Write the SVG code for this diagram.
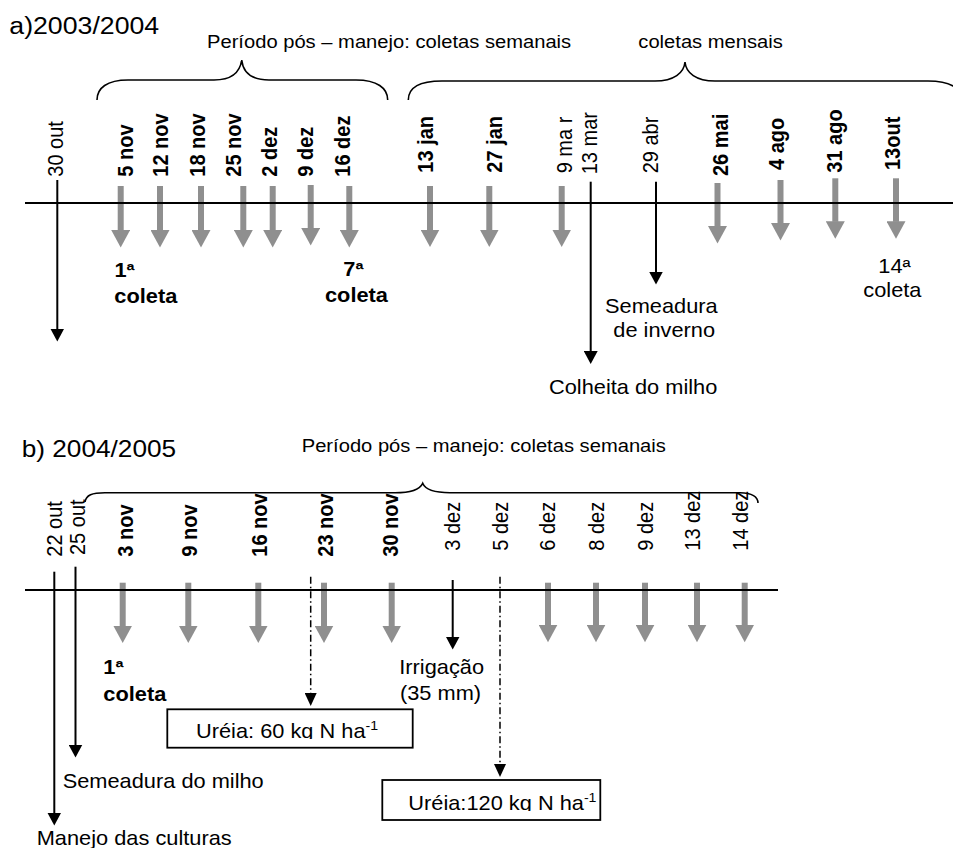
<svg xmlns="http://www.w3.org/2000/svg" width="953" height="848" viewBox="0 0 953 848">
<style>
text { font-family: "Liberation Sans", Arial, Helvetica, sans-serif; fill: #000; }
.b { font-weight: bold; }
.f20 { font-size: 20px; }
.f18 { font-size: 18.5px; }
.f24 { font-size: 24.5px; }
.sup { font-size: 13px; }
.ax { stroke: #000; stroke-width: 2; }
.blk { stroke: #000; stroke-width: 2; marker-end: url(#ah); }
.gry { stroke: #8f8f8f; stroke-width: 6; marker-end: url(#gh); }
.dd { stroke: #000; stroke-width: 1.5; stroke-dasharray: 7 3 1.5 3; marker-end: url(#dh); }
.br { fill: none; stroke: #000; stroke-width: 1.6; }
.box { fill: #fff; stroke: #000; stroke-width: 1.8; }
</style>
<defs>
<marker id="gh" markerUnits="userSpaceOnUse" markerWidth="18" markerHeight="19" viewBox="0 0 18 19" refX="0.5" refY="9.5" orient="auto">
<path d="M0,0 L17.5,9.5 L0,19 z" fill="#8f8f8f"/>
</marker>
<marker id="ah" markerUnits="userSpaceOnUse" markerWidth="13" markerHeight="14" viewBox="0 0 13 14" refX="0.5" refY="7" orient="auto">
<path d="M0,0 L13,7 L0,14 z" fill="#000"/>
</marker>
<marker id="dh" markerUnits="userSpaceOnUse" markerWidth="13" markerHeight="12" viewBox="0 0 13 12" refX="0.5" refY="6" orient="auto">
<path d="M0,0 L13,6 L0,12 z" fill="#000"/>
</marker>
<clipPath id="c1"><rect x="168" y="710" width="243" height="29"/></clipPath>
<clipPath id="c2"><rect x="383" y="781" width="216" height="30"/></clipPath>
</defs>

<!-- ===== Panel a ===== -->
<g id="title-a">
<text class="f24" transform="translate(9.3,34.3) scale(1.09,1)">a)2003/2004</text>
</g>
<g id="brace-a1">
<path class="br" d="M97,100 C97,88 107,80 128,80 L214,80 C232,80 240,72 241.7,60 C243,72 251,80 269,80 L356,80 C377,80 387.7,88 387.7,100"/>
<text class="f18" transform="translate(207,48.3) scale(1.09,1)">Período pós – manejo: coletas semanais</text>
</g>
<g id="brace-a2">
<path class="br" d="M408.3,100 C408.3,88 419,81 442,81 L655,81 C674,81 684,73 685,62 C686,73 696,81 715,81 L928,81 C950,81 961.7,88 961.7,100"/>
<text class="f18" transform="translate(638.3,48.3) scale(1.09,1)">coletas mensais</text>
</g>

<g id="connectors-a">
<line class="gry" x1="120.7" y1="186" x2="120.7" y2="230.5"/>
<line class="gry" x1="160" y1="186" x2="160" y2="230.5"/>
<line class="gry" x1="201" y1="186" x2="201" y2="230.5"/>
<line class="gry" x1="243.3" y1="186" x2="243.3" y2="230.5"/>
<line class="gry" x1="272.7" y1="186" x2="272.7" y2="230.5"/>
<line class="gry" x1="310.7" y1="185" x2="310.7" y2="228.5"/>
<line class="gry" x1="349.3" y1="186" x2="349.3" y2="230.5"/>
<line class="gry" x1="430" y1="186" x2="430" y2="230"/>
<line class="gry" x1="489.3" y1="186" x2="489.3" y2="230"/>
<line class="gry" x1="561.7" y1="186" x2="561.7" y2="230"/>
<line class="gry" x1="717.5" y1="183" x2="717.5" y2="226.5"/>
<line class="gry" x1="780.5" y1="180" x2="780.5" y2="223.5"/>
<line class="gry" x1="835.3" y1="178.3" x2="835.3" y2="221.8"/>
<line class="gry" x1="896" y1="178.3" x2="896" y2="221.8"/>
<line class="ax" x1="25" y1="203" x2="953" y2="203"/>
<line class="blk" x1="57.3" y1="180" x2="57.3" y2="329"/>
<line class="blk" x1="590.7" y1="181.7" x2="590.7" y2="351.5"/>
<line class="blk" x1="656" y1="181.7" x2="656" y2="272"/>
</g>

<g id="dates-a">
<text class="f20" transform="translate(63.3,176.7) scale(1.1,1) rotate(-90)">30 out</text>
<text class="f20 b" transform="translate(133.3,176.7) scale(1.1,1) rotate(-90)">5 nov</text>
<text class="f20 b" transform="translate(168.3,176.7) scale(1.1,1) rotate(-90)">12 nov</text>
<text class="f20 b" transform="translate(205,176.7) scale(1.1,1) rotate(-90)">18 nov</text>
<text class="f20 b" transform="translate(240.7,176.7) scale(1.1,1) rotate(-90)">25 nov</text>
<text class="f20 b" transform="translate(276.7,176.7) scale(1.1,1) rotate(-90)">2 dez</text>
<text class="f20 b" transform="translate(312.7,176.7) scale(1.1,1) rotate(-90)">9 dez</text>
<text class="f20 b" transform="translate(350,176.7) scale(1.1,1) rotate(-90)">16 dez</text>
<text class="f20 b" transform="translate(433.3,172.7) scale(1.1,1) rotate(-90)">13 jan</text>
<text class="f20 b" transform="translate(501.5,172.7) scale(1.1,1) rotate(-90)">27 jan</text>
<text class="f20" transform="translate(571.7,173.3) scale(1.1,1) rotate(-90)">9 ma r</text>
<text class="f20" transform="translate(596.7,174.3) scale(1.1,1) rotate(-90)">13 mar</text>
<text class="f20" transform="translate(658.3,173.3) scale(1.1,1) rotate(-90)">29 abr</text>
<text class="f20 b" transform="translate(728.3,176) scale(1.1,1) rotate(-90)">26 mai</text>
<text class="f20 b" transform="translate(783.5,170) scale(1.1,1) rotate(-90)">4 ago</text>
<text class="f20 b" transform="translate(841.7,172.7) scale(1.1,1) rotate(-90)">31 ago</text>
<text class="f20 b" transform="translate(900,170) scale(1.1,1) rotate(-90)">13out</text>
</g>

<g id="labels-a">
<text class="f20 b" transform="translate(114.5,277.3) scale(1.09,1)">1ª</text>
<text class="f20 b" transform="translate(114.3,303.3) scale(1.09,1)">coleta</text>
<text class="f20 b" transform="translate(343.3,276) scale(1.09,1)">7ª</text>
<text class="f20 b" transform="translate(325,302.3) scale(1.09,1)">coleta</text>
<text class="f20" transform="translate(878.3,272.7) scale(1.09,1)">14ª</text>
<text class="f20" transform="translate(863.3,297.3) scale(1.09,1)">coleta</text>
<text class="f20" transform="translate(605,313.3) scale(1.09,1)">Semeadura</text>
<text class="f20" transform="translate(613.3,337.3) scale(1.09,1)">de inverno</text>
<text class="f20" transform="translate(549,393.5) scale(1.09,1)">Colheita do milho</text>
</g>

<!-- ===== Panel b ===== -->
<g id="title-b">
<text class="f24" transform="translate(21.7,456.7) scale(1.07,1)">b) 2004/2005</text>
</g>
<g id="brace-b">
<path class="br" d="M85,502 C86,495 92,492.7 105,492.7 L395,492.7 C412,492.7 420,489 422.7,483.3 C425,489 433,492.7 450,492.7 L740,492.7 C752,492.7 758,497 758,503"/>
<text class="f18" transform="translate(301.7,451.7) scale(1.09,1)">Período pós – manejo: coletas semanais</text>
</g>

<g id="connectors-b">
<line class="gry" x1="122.7" y1="582.7" x2="122.7" y2="626"/>
<line class="gry" x1="188.3" y1="582.7" x2="188.3" y2="626"/>
<line class="gry" x1="258.3" y1="582.7" x2="258.3" y2="626"/>
<line class="gry" x1="324" y1="582.7" x2="324" y2="626"/>
<line class="gry" x1="391.7" y1="582.7" x2="391.7" y2="626"/>
<line class="gry" x1="548" y1="582.7" x2="548" y2="625.2"/>
<line class="gry" x1="596" y1="582.7" x2="596" y2="625.2"/>
<line class="gry" x1="645" y1="582.7" x2="645" y2="625.2"/>
<line class="gry" x1="697" y1="582.7" x2="697" y2="625.2"/>
<line class="gry" x1="744.7" y1="582.7" x2="744.7" y2="625.2"/>
<line class="ax" x1="25" y1="590" x2="778" y2="590"/>
<line class="blk" x1="54.3" y1="571.7" x2="54.3" y2="813"/>
<line class="blk" x1="75.5" y1="566.7" x2="75.5" y2="745"/>
<line class="blk" x1="452.7" y1="580" x2="452.7" y2="637"/>
<line class="dd" x1="310.7" y1="576.7" x2="310.7" y2="693.5"/>
<line class="dd" x1="500" y1="576.7" x2="500" y2="764.5"/>
</g>

<g id="dates-b">
<text class="f20" transform="translate(61.7,556.7) scale(1.1,1) rotate(-90)">22 out</text>
<text class="f20" transform="translate(85,555) scale(1.1,1) rotate(-90)">25 out</text>
<text class="f20 b" transform="translate(133.3,556.7) scale(1.1,1) rotate(-90)">3 nov</text>
<text class="f20 b" transform="translate(196.7,556.7) scale(1.1,1) rotate(-90)">9 nov</text>
<text class="f20 b" transform="translate(266.7,556.7) scale(1.1,1) rotate(-90)">16 nov</text>
<text class="f20 b" transform="translate(333.3,556.7) scale(1.1,1) rotate(-90)">23 nov</text>
<text class="f20 b" transform="translate(398.3,556.7) scale(1.1,1) rotate(-90)">30 nov</text>
<text class="f20" transform="translate(460,550.7) scale(1.1,1) rotate(-90)">3 dez</text>
<text class="f20" transform="translate(508.3,550.7) scale(1.1,1) rotate(-90)">5 dez</text>
<text class="f20" transform="translate(555,550.7) scale(1.1,1) rotate(-90)">6 dez</text>
<text class="f20" transform="translate(604,550.7) scale(1.1,1) rotate(-90)">8 dez</text>
<text class="f20" transform="translate(652.7,550.7) scale(1.1,1) rotate(-90)">9 dez</text>
<text class="f20" transform="translate(700,550.7) scale(1.1,1) rotate(-90)">13 dez</text>
<text class="f20" transform="translate(748.3,550.7) scale(1.1,1) rotate(-90)">14 dez</text>
</g>

<g id="labels-b">
<text class="f20 b" transform="translate(103.3,674) scale(1.09,1)">1ª</text>
<text class="f20 b" transform="translate(103.3,700.7) scale(1.09,1)">coleta</text>
<text class="f20" transform="translate(399.3,674) scale(1.09,1)">Irrigação</text>
<text class="f20" transform="translate(400,700) scale(1.09,1)">(35 mm)</text>
<text class="f20" transform="translate(62.7,788.3) scale(1.09,1)">Semeadura do milho</text>
<text class="f20" transform="translate(36.7,845) scale(1.09,1)">Manejo das culturas</text>
</g>

<g id="box-ureia-60">
<rect class="box" x="167.3" y="709.3" width="245.4" height="38.4"/>
<g clip-path="url(#c1)">
<text class="f20" transform="translate(196,738.3) scale(1.09,1)">Uréia: 60 kg N ha<tspan class="sup" dy="-8.5">-1</tspan></text>
</g>
</g>
<g id="box-ureia-120">
<rect class="box" x="382.3" y="780" width="218" height="40"/>
<g clip-path="url(#c2)">
<text class="f20" transform="translate(408.3,810.3) scale(1.09,1)">Uréia:120 kg N ha<tspan class="sup" dy="-8.5">-1</tspan></text>
</g>
</g>
</svg>
